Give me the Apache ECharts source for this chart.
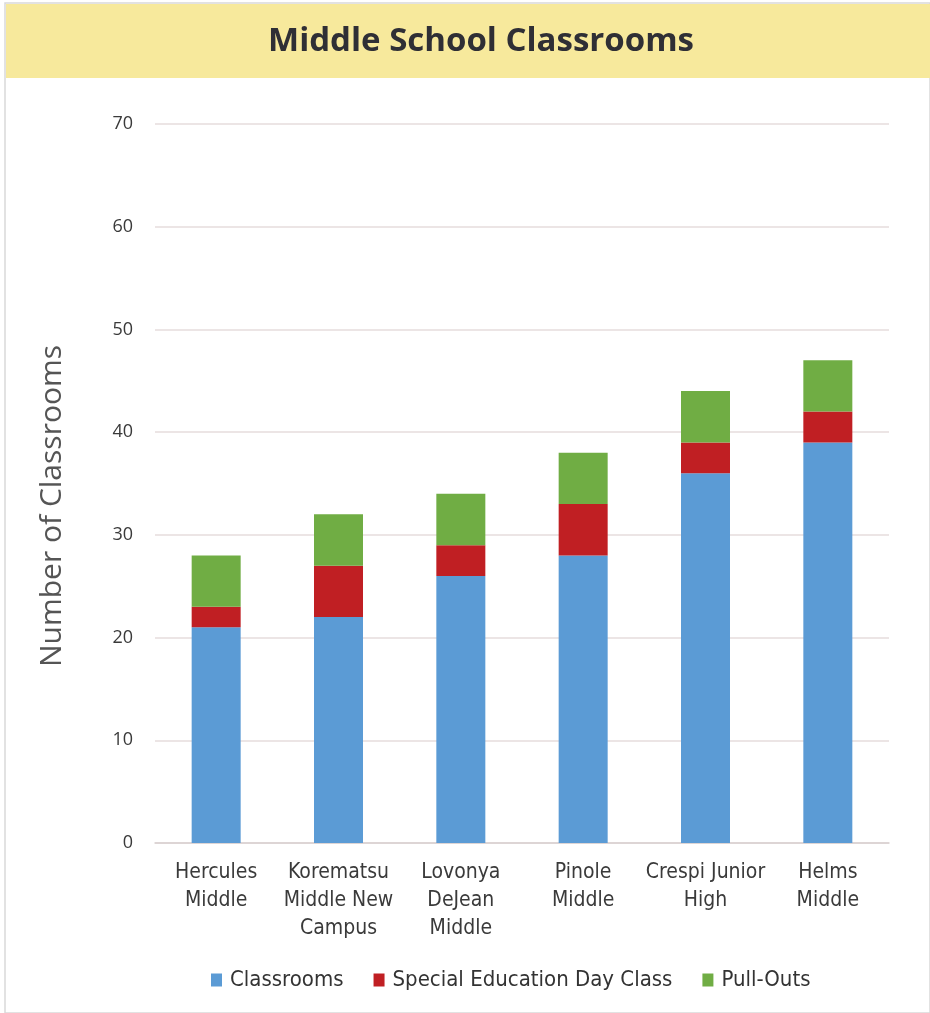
<!DOCTYPE html>
<html>
<head>
<meta charset="utf-8">
<script src="https://cdn.jsdelivr.net/npm/echarts@6/dist/echarts.min.js"></script>
<style>
html,body{margin:0;padding:0;background:#fff;}
#c{width:930px;height:1013px;}
</style>
</head>
<body>
<div id="c"></div>
<script>
const categories = ["Hercules\nMiddle", "Korematsu\nMiddle New\nCampus", "Lovonya\nDeJean\nMiddle", "Pinole\nMiddle", "Crespi Junior\nHigh", "Helms\nMiddle"];
const classrooms = [21, 22, 26, 28, 36, 39];
const specialEd = [2, 5, 3, 5, 3, 3];
const pullOuts = [5, 5, 5, 5, 5, 5];
const yTicks = [0, 10, 20, 30, 40, 50, 60, 70];

const FONT = "'Liberation Sans Narrow', 'DejaVu Sans Condensed', 'Open Sans', sans-serif";
const chart = echarts.init(document.getElementById('c'));
chart.setOption({
  animation: false,
  graphic: [
    { type: 'rect', shape: { x: 5, y: 3, width: 925, height: 1010 }, style: { fill: '#fff', stroke: '#d9d9d9', lineWidth: 1.5 }, z: -10 },
    { type: 'rect', shape: { x: 6, y: 4, width: 924, height: 74 }, style: { fill: '#F7E99C' }, z: -5 },
    { type: 'text', x: 481, y: 42, style: { text: 'Middle School Classrooms', font: "bold 33px 'Open Sans', sans-serif", fill: '#2f2f35', align: 'center', verticalAlign: 'middle' } },
    { type: 'text', x: 52, y: 506, rotation: Math.PI / 2, style: { text: 'Number of Classrooms', font: "30px 'Open Sans', sans-serif", fill: '#555', align: 'center', verticalAlign: 'middle' } }
  ],
  grid: { left: 155, right: 41, top: 124, bottom: 170, containLabel: false },
  legend: {
    bottom: 17, left: 206, itemWidth: 11, itemHeight: 13, itemGap: 30,
    icon: 'rect',
    textStyle: { fontFamily: FONT, fontSize: 22, color: '#333', padding: [0, 0, 0, 3] },
    data: ['Classrooms', 'Special Education Day Class', 'Pull-Outs']
  },
  xAxis: {
    type: 'category', data: categories,
    axisLine: { lineStyle: { color: '#d8d0d0', width: 1.5 } },
    axisTick: { show: false },
    axisLabel: { interval: 0, fontFamily: FONT, fontSize: 21, color: '#3a3a3a', lineHeight: 28, margin: 16 }
  },
  yAxis: {
    type: 'value', min: 0, max: 70, interval: 10,
    axisLine: { show: false }, axisTick: { show: false },
    axisLabel: { fontFamily: "'Open Sans', sans-serif", fontSize: 18, color: '#3a3a3a', margin: 22,
      formatter: v => yTicks.includes(v) ? String(v) : '' },
    splitLine: { lineStyle: { color: '#e6dcdc', width: 1.5 } }
  },
  series: [
    { name: 'Classrooms', type: 'bar', stack: 's', data: classrooms, barWidth: 49, itemStyle: { color: '#5B9BD5' } },
    { name: 'Special Education Day Class', type: 'bar', stack: 's', data: specialEd, itemStyle: { color: '#C01F23' } },
    { name: 'Pull-Outs', type: 'bar', stack: 's', data: pullOuts, itemStyle: { color: '#70AD44' } }
  ]
});
</script>
</body>
</html>
